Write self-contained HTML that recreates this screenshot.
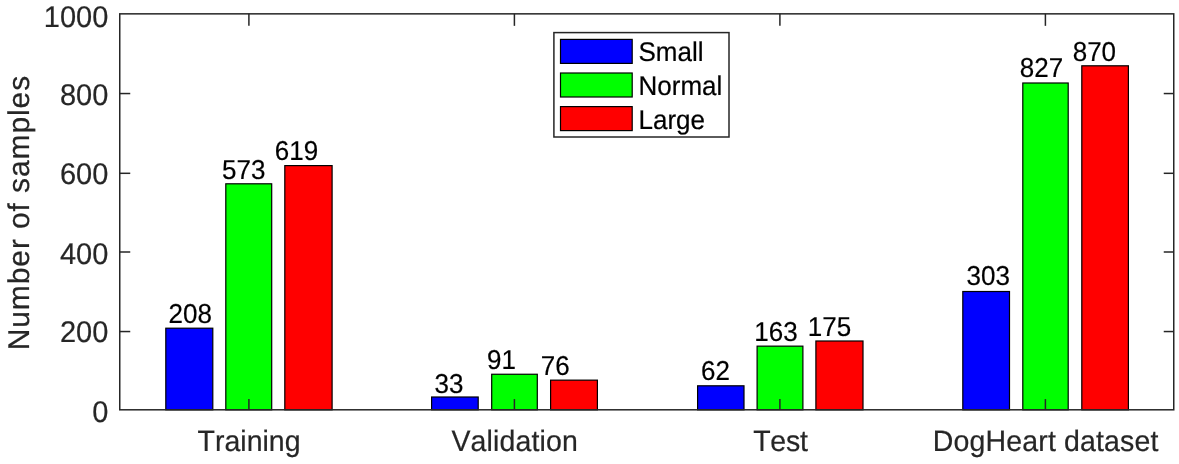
<!DOCTYPE html>
<html><head><meta charset="utf-8"><title>Number of samples</title>
<style>
html,body{margin:0;padding:0;background:#fff;}
svg{display:block;}
text{font-family:"Liberation Sans",Arial,sans-serif;text-rendering:geometricPrecision;font-kerning:none;}
.t{font-size:29px;fill:#262626;stroke:#262626;stroke-width:0.2px;}
.x{font-size:28.5px;fill:#262626;stroke:#262626;stroke-width:0.2px;}
.v{font-size:26.0px;fill:#000;stroke:#000;stroke-width:0.2px;}
.l{font-size:26px;fill:#000;stroke:#000;stroke-width:0.2px;}
.yl{font-size:30px;fill:#262626;letter-spacing:0.9px;stroke:#262626;stroke-width:0.2px;}
</style></head>
<body>
<svg width="1179" height="464" viewBox="0 0 1179 464">
<rect x="0" y="0" width="1179" height="464" fill="#ffffff"/>
<rect x="165.80" y="328.20" width="47.00" height="81.60" fill="#0000ff" stroke="#000" stroke-width="1.2"/>
<rect x="225.80" y="183.80" width="45.90" height="226.00" fill="#00ff00" stroke="#000" stroke-width="1.2"/>
<rect x="284.80" y="165.60" width="47.30" height="244.20" fill="#ff0000" stroke="#000" stroke-width="1.2"/>
<rect x="431.60" y="397.00" width="46.60" height="12.80" fill="#0000ff" stroke="#000" stroke-width="1.2"/>
<rect x="491.70" y="374.25" width="45.60" height="35.55" fill="#00ff00" stroke="#000" stroke-width="1.2"/>
<rect x="550.60" y="380.15" width="46.80" height="29.65" fill="#ff0000" stroke="#000" stroke-width="1.2"/>
<rect x="697.60" y="385.80" width="46.40" height="24.00" fill="#0000ff" stroke="#000" stroke-width="1.2"/>
<rect x="757.10" y="346.15" width="45.80" height="63.65" fill="#00ff00" stroke="#000" stroke-width="1.2"/>
<rect x="815.90" y="341.00" width="47.10" height="68.80" fill="#ff0000" stroke="#000" stroke-width="1.2"/>
<rect x="962.80" y="291.50" width="46.70" height="118.30" fill="#0000ff" stroke="#000" stroke-width="1.2"/>
<rect x="1022.80" y="83.00" width="45.40" height="326.80" fill="#00ff00" stroke="#000" stroke-width="1.2"/>
<rect x="1081.80" y="65.80" width="46.60" height="344.00" fill="#ff0000" stroke="#000" stroke-width="1.2"/>
<rect x="119.75" y="13.85" width="1054.0" height="395.95" fill="none" stroke="#262626" stroke-width="1.5"/>
<line x1="248.9" y1="409.8" x2="248.9" y2="399.10" stroke="#262626" stroke-width="1.5"/>
<line x1="248.9" y1="13.85" x2="248.9" y2="25.85" stroke="#262626" stroke-width="1.5"/>
<line x1="514.4" y1="409.8" x2="514.4" y2="399.10" stroke="#262626" stroke-width="1.5"/>
<line x1="514.4" y1="13.85" x2="514.4" y2="25.85" stroke="#262626" stroke-width="1.5"/>
<line x1="779.9" y1="409.8" x2="779.9" y2="399.10" stroke="#262626" stroke-width="1.5"/>
<line x1="779.9" y1="13.85" x2="779.9" y2="25.85" stroke="#262626" stroke-width="1.5"/>
<line x1="1045.4" y1="409.8" x2="1045.4" y2="399.10" stroke="#262626" stroke-width="1.5"/>
<line x1="1045.4" y1="13.85" x2="1045.4" y2="25.85" stroke="#262626" stroke-width="1.5"/>
<line x1="119.75" y1="331.55" x2="130.25" y2="331.55" stroke="#262626" stroke-width="1.5"/>
<line x1="1173.75" y1="331.55" x2="1163.75" y2="331.55" stroke="#262626" stroke-width="1.5"/>
<line x1="119.75" y1="252.00" x2="130.25" y2="252.00" stroke="#262626" stroke-width="1.5"/>
<line x1="1173.75" y1="252.00" x2="1163.75" y2="252.00" stroke="#262626" stroke-width="1.5"/>
<line x1="119.75" y1="173.30" x2="130.25" y2="173.30" stroke="#262626" stroke-width="1.5"/>
<line x1="1173.75" y1="173.30" x2="1163.75" y2="173.30" stroke="#262626" stroke-width="1.5"/>
<line x1="119.75" y1="93.55" x2="130.25" y2="93.55" stroke="#262626" stroke-width="1.5"/>
<line x1="1173.75" y1="93.55" x2="1163.75" y2="93.55" stroke="#262626" stroke-width="1.5"/>
<text class="t" transform="translate(108.3,26.60) scale(1,1.03)" text-anchor="end">1000</text>
<text class="t" transform="translate(108.3,105.40) scale(1,1.03)" text-anchor="end">800</text>
<text class="t" transform="translate(108.3,184.10) scale(1,1.03)" text-anchor="end">600</text>
<text class="t" transform="translate(108.3,263.50) scale(1,1.03)" text-anchor="end">400</text>
<text class="t" transform="translate(108.3,342.10) scale(1,1.03)" text-anchor="end">200</text>
<text class="t" transform="translate(108.3,421.90) scale(1,1.03)" text-anchor="end">0</text>
<text class="x" transform="translate(197.56,450.7) scale(1,1.035)" style="letter-spacing:0.0px">Training</text>
<text class="x" transform="translate(451.47,450.7) scale(1,1.035)" style="letter-spacing:0.135px">Validation</text>
<text class="x" transform="translate(753.16,450.7) scale(1,1.035)" style="letter-spacing:-0.23px">Test</text>
<text class="x" transform="translate(932.86,450.7) scale(1,1.035)" style="letter-spacing:0.14px">DogHeart dataset</text>
<text class="yl" transform="translate(28.85,212.6) rotate(-90)" text-anchor="middle">Number of samples</text>
<text class="v" transform="translate(168.49,323.30) scale(1,1.05)">208</text>
<text class="v" transform="translate(222.06,178.80) scale(1,1.05)">573</text>
<text class="v" transform="translate(274.78,159.90) scale(1,1.05)">619</text>
<text class="v" transform="translate(434.51,392.70) scale(1,1.05)">33</text>
<text class="v" transform="translate(487.08,369.20) scale(1,1.05)">91</text>
<text class="v" transform="translate(540.77,375.00) scale(1,1.05)">76</text>
<text class="v" transform="translate(700.98,380.30) scale(1,1.05)">62</text>
<text class="v" transform="translate(754.37,340.70) scale(1,1.05)">163</text>
<text class="v" transform="translate(807.77,335.70) scale(1,1.05)">175</text>
<text class="v" transform="translate(966.51,285.30) scale(1,1.05)">303</text>
<text class="v" transform="translate(1019.77,76.80) scale(1,1.05)">827</text>
<text class="v" transform="translate(1072.67,60.80) scale(1,1.05)">870</text>
<rect x="553.9" y="32.6" width="175.1" height="104.4" fill="#fff" stroke="#262626" stroke-width="1.5"/>
<rect x="560.5" y="39.40" width="71.70" height="24.00" fill="#0000ff" stroke="#000" stroke-width="1.2"/>
<text class="l" transform="translate(638.5,61.20) scale(1,1.04)">Small</text>
<rect x="560.5" y="73.00" width="71.70" height="24.00" fill="#00ff00" stroke="#000" stroke-width="1.2"/>
<text class="l" transform="translate(638.5,94.90) scale(1,1.04)">Normal</text>
<rect x="560.5" y="106.60" width="71.70" height="24.00" fill="#ff0000" stroke="#000" stroke-width="1.2"/>
<text class="l" transform="translate(638.5,128.60) scale(1,1.04)">Large</text>
</svg>
</body></html>
